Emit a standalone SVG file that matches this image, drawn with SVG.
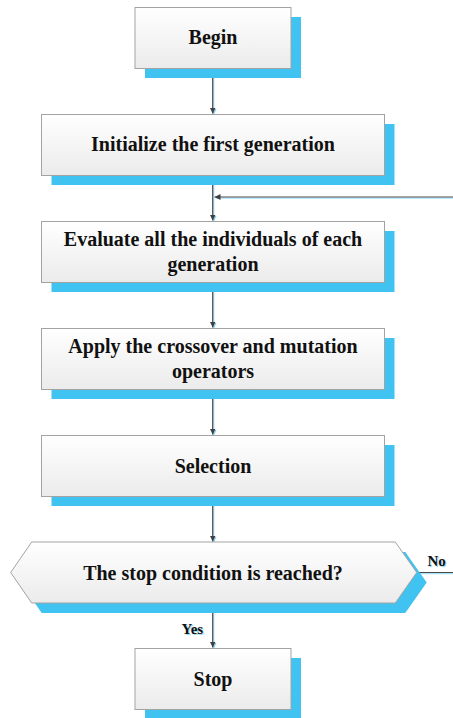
<svg xmlns="http://www.w3.org/2000/svg" width="453" height="718" viewBox="0 0 453 718" font-family="'Liberation Serif', 'Times New Roman', Tinos, serif" font-weight="bold">
  <defs>
    <linearGradient id="boxFill" x1="0" y1="0" x2="0" y2="1">
      <stop offset="0" stop-color="#ffffff"/>
      <stop offset="1" stop-color="#ebebeb"/>
    </linearGradient>
    <marker id="arrow" viewBox="0 0 10 10" refX="10" refY="5" markerWidth="6" markerHeight="6" markerUnits="userSpaceOnUse" orient="auto">
      <path d="M0,0 L10,5 L0,10 Z" fill="#404040"/>
    </marker>
    <marker id="arrowShade" viewBox="0 0 10 10" refX="10" refY="5" markerWidth="6" markerHeight="6" markerUnits="userSpaceOnUse" orient="auto">
      <path d="M0,0 L10,5 L0,10 Z" fill="#7fd3f5"/>
    </marker>
  </defs>
  <style>
    .shadow { fill: #41c3f1; }
    .box { fill: url(#boxFill); stroke: #a3a3a3; stroke-width: 1; }
    .label { font-size: 20px; fill: #111111; text-anchor: middle; }
    .small { font-size: 15px; fill: #111111; }
    .smallShade { font-size: 15px; fill: #9adcf6; }
    .line { fill: none; stroke: #4a4a4a; stroke-width: 1.2; }
    .lineShade { fill: none; stroke: #a8e2f8; stroke-width: 1.2; }
  </style>

  <!-- connectors -->
  <g id="connectors">
    <g class="shades">
      <path class="lineShade" d="M213.8,69 V114.5" marker-end="url(#arrowShade)"/>
      <path class="lineShade" d="M213.8,176 V221.5" marker-end="url(#arrowShade)"/>
      <path class="lineShade" d="M213.8,283 V328.5" marker-end="url(#arrowShade)"/>
      <path class="lineShade" d="M213.8,390 V435.5" marker-end="url(#arrowShade)"/>
      <path class="lineShade" d="M213.8,497 V542.5" marker-end="url(#arrowShade)"/>
      <path class="lineShade" d="M213.8,604 V648.5" marker-end="url(#arrowShade)"/>
      <path class="lineShade" d="M453,198.2 H215.5"/>
      <path class="lineShade" d="M417,573.7 H453"/>
    </g>
    <path class="line" d="M212.7,68.5 V113.5" marker-end="url(#arrow)"/>
    <path class="line" d="M212.7,175.5 V220.5" marker-end="url(#arrow)"/>
    <path class="line" d="M212.7,282.5 V327.5" marker-end="url(#arrow)"/>
    <path class="line" d="M212.7,389.5 V434.5" marker-end="url(#arrow)"/>
    <path class="line" d="M212.7,496.5 V541.5" marker-end="url(#arrow)"/>
    <path class="line" d="M212.7,603.5 V647.5" marker-end="url(#arrow)"/>
    <path class="line" d="M453,197 H214.5" marker-end="url(#arrow)"/>
    <path class="line" d="M416.7,572.5 H453" stroke="#8a8a8a"/>
  </g>

  <g id="begin">
    <rect class="shadow" x="145" y="17" width="156" height="61"/>
    <rect class="box" x="135" y="7.5" width="156" height="61"/>
    <text class="label" x="213" y="44">Begin</text>
  </g>

  <g id="initialize">
    <rect class="shadow" x="51.5" y="124" width="343" height="61"/>
    <rect class="box" x="41.5" y="114.5" width="343" height="61"/>
    <text class="label" x="213" y="151">Initialize the first generation</text>
  </g>

  <g id="evaluate">
    <rect class="shadow" x="51.5" y="231" width="343" height="61"/>
    <rect class="box" x="41.5" y="221.5" width="343" height="61"/>
    <text class="label" x="213" y="246">Evaluate all the individuals of each</text>
    <text class="label" x="213" y="271">generation</text>
  </g>

  <g id="apply">
    <rect class="shadow" x="51.5" y="338" width="343" height="61"/>
    <rect class="box" x="41.5" y="328.5" width="343" height="61"/>
    <text class="label" x="213" y="353">Apply the crossover and mutation</text>
    <text class="label" x="213" y="377.5">operators</text>
  </g>

  <g id="selection">
    <rect class="shadow" x="51.5" y="445" width="343" height="61"/>
    <rect class="box" x="41.5" y="435.5" width="343" height="61"/>
    <text class="label" x="213" y="472.5">Selection</text>
  </g>

  <g id="decision">
    <polygon class="shadow" points="41.7,552 405.3,552 426.7,582.5 405.3,613 41.7,613 20.7,582.5"/>
    <polygon class="box" points="31.7,542 395.3,542 416.7,572.5 395.3,603 31.7,603 10.7,572.5"/>
    <text class="label" x="213" y="579.5">The stop condition is reached?</text>
  </g>

  <g id="label-no">
    <text class="smallShade" x="428.5" y="567">No</text>
    <text class="small" x="427.5" y="566">No</text>
  </g>

  <g id="label-yes">
    <text class="smallShade" x="182.5" y="635">Yes</text>
    <text class="small" x="181.5" y="634">Yes</text>
  </g>

  <g id="stop">
    <rect class="shadow" x="145" y="658" width="156" height="61"/>
    <rect class="box" x="135" y="648.5" width="156" height="61"/>
    <text class="label" x="213" y="685.5">Stop</text>
  </g>
</svg>
